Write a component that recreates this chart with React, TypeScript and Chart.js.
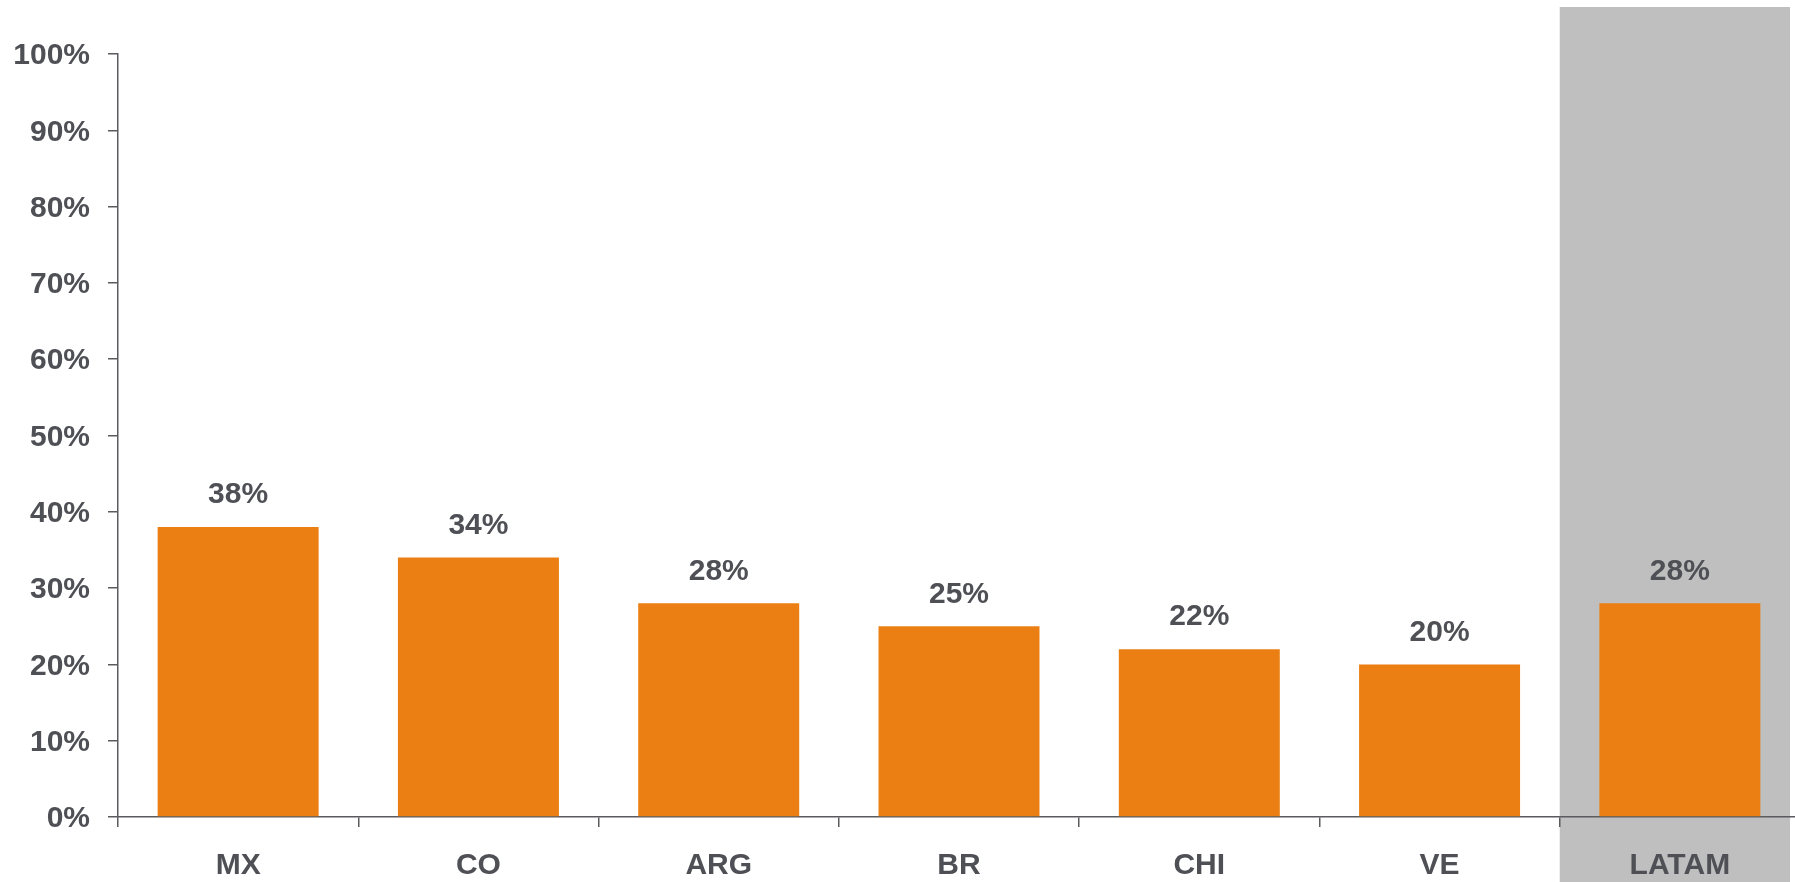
import React, { useEffect, useRef } from "react";
import { Chart, registerables } from "chart.js";

Chart.register(...registerables);

const categories = ["MX", "CO", "ARG", "BR", "CHI", "VE", "LATAM"];
const shares = [38, 34, 28, 25, 22, 20, 28];
const highlightIndex = 6;

const ORANGE = "#EB7F13";
const GRAY_BAND = "#BFBFBF";
const TEXT = "#4F5055";
const AXIS = "#5A5B5F";
const FONT = "'Liberation Sans', Arial, sans-serif";

const bandPlugin = {
  id: "band",
  beforeDraw(chart: any) {
    const { ctx, chartArea } = chart;
    const x = chart.scales.x;
    const center = x.getPixelForValue(highlightIndex);
    const half = (x.getPixelForValue(1) - x.getPixelForValue(0)) / 2;
    const left = center - half;
    const right = chartArea.right - 10;
    ctx.save();
    ctx.fillStyle = GRAY_BAND;
    ctx.fillRect(left, 7, right - left, chart.height - 7);
    ctx.restore();
  },
};

const labelPlugin = {
  id: "valueLabels",
  afterDatasetsDraw(chart: any) {
    const { ctx } = chart;
    const meta = chart.getDatasetMeta(0);
    ctx.save();
    ctx.fillStyle = TEXT;
    ctx.font = `bold 30px ${FONT}`;
    ctx.textAlign = "center";
    ctx.textBaseline = "middle";
    meta.data.forEach((bar: any, i: number) => {
      ctx.fillText(`${shares[i]}%`, bar.x, bar.y - 32);
    });
    ctx.restore();
  },
};

export default function App() {
  const ref = useRef<HTMLCanvasElement | null>(null);
  useEffect(() => {
    if (!ref.current) return;
    const chart = new Chart(ref.current, {
      type: "bar",
      data: {
        labels: categories,
        datasets: [
          {
            data: shares,
            backgroundColor: ORANGE,
            barPercentage: 0.67,
            categoryPercentage: 1,
          },
        ],
      },
      options: {
        animation: false,
        responsive: false,
        maintainAspectRatio: false,
        layout: { padding: { top: 54, right: 10, left: 0, bottom: 0 } },
        plugins: {
          legend: { display: false },
          tooltip: { enabled: false },
        },
        scales: {
          x: {
            grid: {
              drawOnChartArea: false,
              drawTicks: true,
              tickLength: 10,
              color: AXIS,
              lineWidth: 1.5,
              offset: true,
            },
            border: { color: AXIS, width: 1.5 },
            ticks: {
              color: TEXT,
              font: { family: FONT, size: 30, weight: "bold" },
              padding: 21,
              maxRotation: 0,
            },
            afterFit(scale: any) {
              scale.height = 65;
            },
          },
          y: {
            min: 0,
            max: 100,
            grid: {
              drawOnChartArea: false,
              drawTicks: true,
              tickLength: 10,
              color: AXIS,
              lineWidth: 1.5,
            },
            border: { color: AXIS, width: 1.5 },
            ticks: {
              stepSize: 10,
              color: TEXT,
              font: { family: FONT, size: 30, weight: "bold" },
              padding: 18,
              labelOffset: 2,
              callback: (v: any) => `${v}%`,
            },
            afterFit(scale: any) {
              scale.width = 118;
            },
          },
        },
      },
      plugins: [bandPlugin, labelPlugin],
    });
    return () => chart.destroy();
  }, []);

  return (
    <div
      style={{
        position: "fixed",
        left: 0,
        top: 0,
        width: 1795,
        height: 882,
        overflow: "hidden",
        background: "#fff",
      }}
    >
      <canvas ref={ref} width={1810} height={882} style={{ display: "block" }} />
    </div>
  );
}
